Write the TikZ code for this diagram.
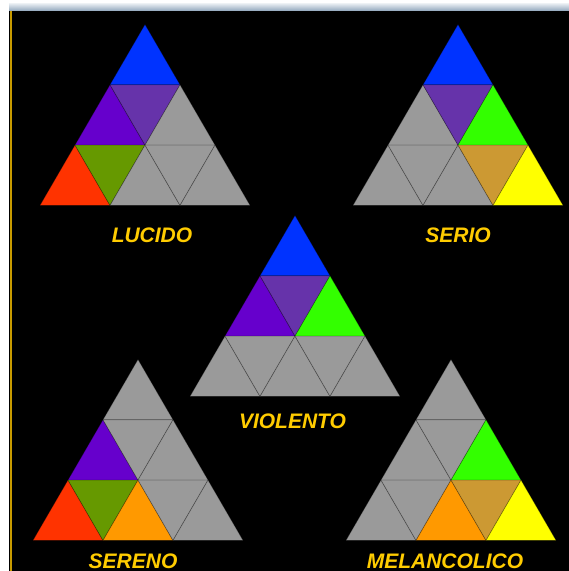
\documentclass[tikz,border=0pt]{standalone}
\usepackage{fontspec}
\setmainfont{Liberation Sans}
\definecolor{cblue}{HTML}{0033FF}
\definecolor{cviolet}{HTML}{6600CC}
\definecolor{cpurple}{HTML}{6633AA}
\definecolor{cred}{HTML}{FF3300}
\definecolor{colive}{HTML}{669900}
\definecolor{corange}{HTML}{FF9900}
\definecolor{cgrey}{HTML}{9A9A9A}
\definecolor{cgreen}{HTML}{33FF00}
\definecolor{ctan}{HTML}{CC9933}
\definecolor{cyellow}{HTML}{FFFF00}
\definecolor{cgold}{HTML}{FFCC00}
\definecolor{cband}{HTML}{8FA6BC}
\definecolor{cedge}{HTML}{C89B00}
\tikzset{
  cell/.style={fill=#1, draw=black, draw opacity=0.3, line width=0.7pt, line join=round},
  lbl/.style={text=cgold, font=\fontsize{21}{21}\selectfont\bfseries\itshape, anchor=base, inner sep=0pt}
}
\newcommand{\puzzleset}[9]{%
  \path[cell=#1] (0,0) -- (-35,60.3) -- (35,60.3) -- cycle;
  \path[cell=#2] (-35,60.3) -- (-70,120.6) -- (0,120.6) -- cycle;
  \path[cell=#3] (-35,60.3) -- (35,60.3) -- (0,120.6) -- cycle;
  \path[cell=#4] (35,60.3) -- (0,120.6) -- (70,120.6) -- cycle;
  \path[cell=#5] (-70,120.6) -- (-105,180.9) -- (-35,180.9) -- cycle;
  \path[cell=#6] (-70,120.6) -- (0,120.6) -- (-35,180.9) -- cycle;
  \path[cell=#7] (0,120.6) -- (-35,180.9) -- (35,180.9) -- cycle;
  \path[cell=#8] (0,120.6) -- (70,120.6) -- (35,180.9) -- cycle;
  \path[cell=#9] (70,120.6) -- (35,180.9) -- (105,180.9) -- cycle;
}
\begin{document}
\begin{tikzpicture}[x=1pt,y=-1pt]
\useasboundingbox (0,0) rectangle (569,571);
% window frame
\fill[white] (0,0) rectangle (569,571);
\shade[top color=white!85!cband, bottom color=cband] (9,3) rectangle (569,11);
\fill[black] (9,11) rectangle (569,571);
\fill[cedge] (10,11) rectangle (12,571);
% LUCIDO
\begin{scope}[shift={(145,24.5)}]
\puzzleset{cblue}{cviolet}{cpurple}{cgrey}{cred}{colive}{cgrey}{cgrey}{cgrey}
\end{scope}
% SERIO
\begin{scope}[shift={(458,24.5)}]
\puzzleset{cblue}{cgrey}{cpurple}{cgreen}{cgrey}{cgrey}{cgrey}{ctan}{cyellow}
\end{scope}
% VIOLENTO
\begin{scope}[shift={(295,215.5)}]
\puzzleset{cblue}{cviolet}{cpurple}{cgreen}{cgrey}{cgrey}{cgrey}{cgrey}{cgrey}
\end{scope}
% SERENO
\begin{scope}[shift={(138,359.5)}]
\puzzleset{cgrey}{cviolet}{cgrey}{cgrey}{cred}{colive}{corange}{cgrey}{cgrey}
\end{scope}
% MELANCOLICO
\begin{scope}[shift={(451,359.5)}]
\puzzleset{cgrey}{cgrey}{cgrey}{cgreen}{cgrey}{cgrey}{corange}{ctan}{cyellow}
\end{scope}
% labels
\node[lbl] (lucido) at (152,242) {LUCIDO};
\node[lbl] (serio) at (458,242) {SERIO};
\node[lbl] (violento) at (292.5,428) {VIOLENTO};
\node[lbl] (sereno) at (133,568) {SERENO};
\node[lbl] (melancolico) at (445,568) {MELANCOLICO};
\end{tikzpicture}
\end{document}
